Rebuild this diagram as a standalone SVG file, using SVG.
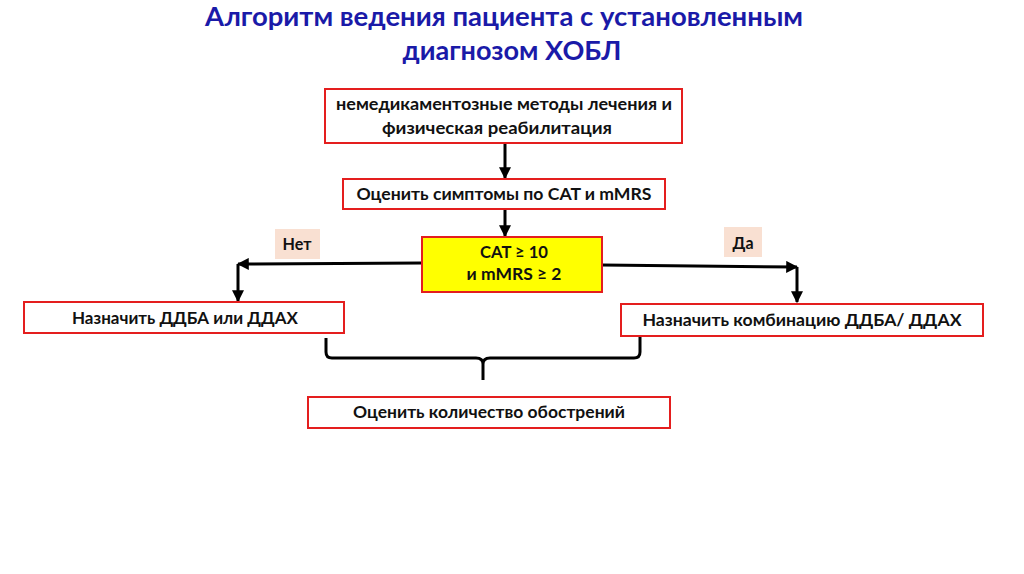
<svg xmlns="http://www.w3.org/2000/svg" width="1024" height="574" viewBox="0 0 1024 574">
<style>
.t{font-family:Lato,"Open Sans","Liberation Sans",sans-serif;font-weight:bold;font-size:17px;fill:#111;text-anchor:middle}
.h{font-family:Lato,"Open Sans","Liberation Sans",sans-serif;font-weight:bold;font-size:26px;fill:#1a1aa8;text-anchor:middle}
.box{fill:#fff;stroke:#e41e1e;stroke-width:2}
.lbl{fill:#f9e0d2}
.c{fill:none;stroke:#000;stroke-width:3}
</style>
<defs>
<marker id="ah" viewBox="0 0 10 10" refX="9" refY="5" markerWidth="4" markerHeight="4" orient="auto" markerUnits="strokeWidth">
<path d="M0,0 L10,5 L0,10 z" fill="#000"/>
</marker>
</defs>
<rect width="1024" height="574" fill="#fff"/>
<g id="title">
<text class="h" x="504" y="26" textLength="598" lengthAdjust="spacingAndGlyphs">Алгоритм ведения пациента с установленным</text>
<text class="h" x="512" y="60" textLength="219" lengthAdjust="spacingAndGlyphs">диагнозом ХОБЛ</text>
</g>
<g id="connectors">
<line class="c" x1="505" y1="143" x2="505" y2="178" marker-end="url(#ah)"/>
<line class="c" x1="505" y1="209" x2="505" y2="236" marker-end="url(#ah)"/>
<polyline class="c" points="422,263 238,264" marker-end="url(#ah)"/>
<line class="c" x1="238" y1="264" x2="238" y2="301" marker-end="url(#ah)"/>
<polyline class="c" points="602,265 797,267" marker-end="url(#ah)"/>
<line class="c" x1="797" y1="267" x2="797" y2="302" marker-end="url(#ah)"/>
<path class="c" d="M326,338 L326,352 Q326,358 332,358 L476,358 Q483,358 483,364 L483,380 M483,364 Q483,358 490,358 L634,358 Q640,358 640,352 L640,337"/>
</g>
<g id="n1">
<rect class="box" x="325" y="89" width="357" height="54"/>
<text class="t" x="504" y="110" textLength="336" lengthAdjust="spacingAndGlyphs">немедикаментозные методы лечения и</text>
<text class="t" x="497" y="134" textLength="230" lengthAdjust="spacingAndGlyphs">физическая реабилитация</text>
</g>
<g id="n2">
<rect class="box" x="343" y="179" width="322" height="30"/>
<text class="t" x="504" y="200" textLength="295" lengthAdjust="spacingAndGlyphs">Оценить симптомы по CAT и mMRS</text>
</g>
<g id="n3">
<rect x="422" y="237" width="180" height="55" fill="#ffff00" stroke="#e41e1e" stroke-width="2"/>
<text class="t" x="514" y="258" textLength="68" lengthAdjust="spacingAndGlyphs">CAT ≥ 10</text>
<text class="t" x="514" y="280" textLength="95" lengthAdjust="spacingAndGlyphs">и mMRS ≥ 2</text>
</g>
<g id="no">
<rect class="lbl" x="275" y="229" width="45" height="30"/>
<text class="t" x="297" y="250" textLength="29" lengthAdjust="spacingAndGlyphs">Нет</text>
</g>
<g id="yes">
<rect class="lbl" x="724" y="227" width="38" height="30"/>
<text class="t" x="743" y="249" textLength="21" lengthAdjust="spacingAndGlyphs">Да</text>
</g>
<g id="n4">
<rect class="box" x="24" y="302" width="320" height="31"/>
<text class="t" x="185" y="324" textLength="226" lengthAdjust="spacingAndGlyphs">Назначить ДДБА или ДДАХ</text>
</g>
<g id="n5">
<rect class="box" x="621" y="304" width="362" height="32"/>
<text class="t" x="802" y="326" textLength="319" lengthAdjust="spacingAndGlyphs">Назначить  комбинацию ДДБА/ ДДАХ</text>
</g>
<g id="n6">
<rect class="box" x="308" y="397" width="362" height="31"/>
<text class="t" x="489" y="418" textLength="272" lengthAdjust="spacingAndGlyphs">Оценить количество обострений</text>
</g>
</svg>
